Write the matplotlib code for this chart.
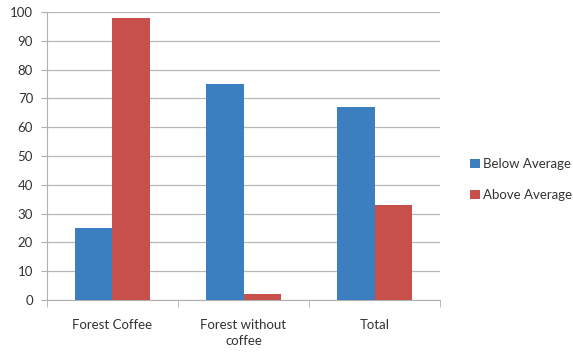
import matplotlib
matplotlib.use("Agg")
import matplotlib.pyplot as plt
import numpy as np

categories = ["Forest Coffee", "Forest without\ncoffee", "Total"]
series_names = ["Below Average", "Above Average"]
below = [25, 75, 67]
above = [98, 2, 33]
yticks = [0, 10, 20, 30, 40, 50, 60, 70, 80, 90, 100]

plt.rcParams['font.family'] = ['Lato', 'DejaVu Sans']

fig = plt.figure(figsize=(5.73, 3.52), dpi=100)
ax = fig.add_axes([0.082, 0.148, 0.686, 0.818])

x = np.arange(len(categories))
w = 0.285
ax.bar(x - w / 2, below, w, color='#3b7fc0', label=series_names[0], zorder=3)
ax.bar(x + w / 2, above, w, color='#c8504b', label=series_names[1], zorder=3)

ax.set_xlim(-0.5, len(categories) - 0.5)
ax.set_ylim(0, 100)
ax.set_yticks(yticks)
ax.set_yticklabels([str(t) for t in yticks], fontsize=9.5, color='#333333')
ax.yaxis.grid(True, color='#b8b8b8', linewidth=0.9, zorder=0)
ax.tick_params(axis='y', length=4, color='#b0b0b0', pad=6)

ax.set_xticks(x)
ax.set_xticklabels(categories, fontsize=9.5, color='#333333', linespacing=1.35)
ax.tick_params(axis='x', length=0, pad=14)
ax.set_xticks(np.arange(len(categories) + 1) - 0.5, minor=True)
ax.tick_params(axis='x', which='minor', length=5, color='#b0b0b0')

for s in ['top', 'right']:
    ax.spines[s].set_visible(False)
ax.spines['left'].set_color('#b0b0b0')
ax.spines['bottom'].set_color('#b0b0b0')

fig.legend(loc='center left', bbox_to_anchor=(0.8, 0.49), frameon=False,
           fontsize=9.5, handlelength=0.7, handleheight=0.7, handletextpad=0.3,
           labelspacing=1.4, labelcolor='#333333')

fig.savefig("out.png", dpi=100)
